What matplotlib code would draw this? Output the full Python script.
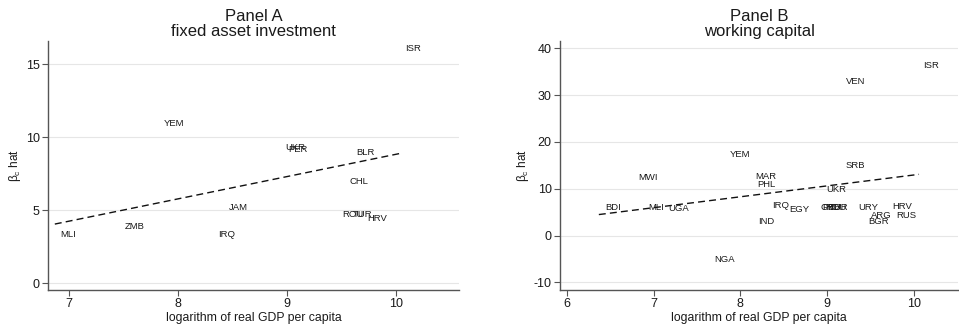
import matplotlib
matplotlib.use("Agg")
import matplotlib.pyplot as plt
import numpy as np

plt.rcParams['font.family'] = ['Liberation Sans', 'DejaVu Sans']
plt.rcParams['mathtext.fontset'] = 'custom'
plt.rcParams['mathtext.rm'] = 'Liberation Sans'
plt.rcParams['mathtext.it'] = 'Liberation Sans'
plt.rcParams['mathtext.bf'] = 'Liberation Sans'

# Panel A: fixed asset investment
a_codes = ["ISR", "YEM", "UKR", "PER", "BLR", "CHL", "JAM", "ROU", "TUR", "HRV", "ZMB", "MLI", "IRQ"]
a_x = [10.16, 7.96, 9.08, 9.10, 9.72, 9.66, 8.55, 9.60, 9.69, 9.83, 7.60, 6.99, 8.45]
a_y = [16.1, 10.96, 9.32, 9.17, 8.95, 6.97, 5.2, 4.7, 4.7, 4.4, 3.9, 3.35, 3.35]
a_fit_x = [6.87, 10.05]
a_fit_y = [4.04, 8.90]

# Panel B: working capital
b_codes = ["ISR", "VEN", "YEM", "SRB", "MWI", "MAR", "PHL", "UKR", "BDI", "MLI", "UGA",
           "IRQ", "EGY", "CHL", "PER", "ROU", "TUR", "URY", "HRV", "ARG", "RUS", "BGR",
           "IND", "NGA"]
b_x = [10.2, 9.33, 8.0, 9.33, 6.94, 8.3, 8.3, 9.11, 6.53, 7.03, 7.29,
       8.47, 8.68, 9.03, 9.06, 9.10, 9.13, 9.48, 9.87, 9.63, 9.91, 9.59,
       8.3, 7.82]
b_y = [36.4, 33.0, 17.4, 15.0, 12.4, 12.6, 10.95, 9.8, 5.9, 5.9, 5.85,
       6.47, 5.55, 6.06, 6.06, 6.06, 6.06, 6.0, 6.3, 4.3, 4.3, 2.9,
       2.9, -5.1]
b_fit_x = [6.37, 10.06]
b_fit_y = [4.48, 13.08]

fig = plt.figure(figsize=(9.59, 3.29), dpi=100)
axA = fig.add_axes([0.050, 0.1185, 0.4286, 0.7565])
axB = fig.add_axes([0.584, 0.1185, 0.415, 0.7565])

spine_col = '#555555'
text_col = '#1a1a1a'

def style(ax, xlim, ylim, yticks, xticks, title):
    ax.set_xlim(*xlim)
    ax.set_ylim(*ylim)
    ax.set_yticks(yticks)
    ax.set_xticks(xticks)
    ax.set_yticklabels([str(t) for t in yticks])
    ax.set_xticklabels([str(t) for t in xticks])
    for s in ['top', 'right']:
        ax.spines[s].set_visible(False)
    for s in ['left', 'bottom']:
        ax.spines[s].set_color(spine_col)
        ax.spines[s].set_linewidth(1.0)
    ax.tick_params(axis='both', direction='out', length=4, width=0.8, color=spine_col,
                   labelsize=9, labelcolor=text_col, pad=2)
    ax.yaxis.grid(True, color='#e6e6e6', linewidth=0.8)
    ax.set_axisbelow(True)
    ax.set_xlabel("logarithm of real GDP per capita", fontsize=8.8, color=text_col, labelpad=1)
    ax.set_ylabel(r"$\mathregular{\beta_c}$ hat", fontsize=8.5, color=text_col, labelpad=2)
    ax.set_title(title, fontsize=12, color=text_col, pad=4, linespacing=0.95)

style(axA, (6.807, 10.578), (-0.48, 16.58), [0, 5, 10, 15], [7, 8, 9, 10],
      "Panel A\nfixed asset investment")
style(axB, (5.923, 10.51), (-11.65, 41.56), [-10, 0, 10, 20, 30, 40], [6, 7, 8, 9, 10],
      "Panel B\nworking capital")

for ax, codes, xs, ys, fx, fy in [(axA, a_codes, a_x, a_y, a_fit_x, a_fit_y),
                                  (axB, b_codes, b_x, b_y, b_fit_x, b_fit_y)]:
    ax.plot(fx, fy, linestyle=(0, (5, 3)), color='#111111', linewidth=1.0)
    for c, x, y in zip(codes, xs, ys):
        ax.text(x, y, c, fontsize=6.8, color=text_col, ha='center', va='center')

fig.savefig("out.png", dpi=100)
